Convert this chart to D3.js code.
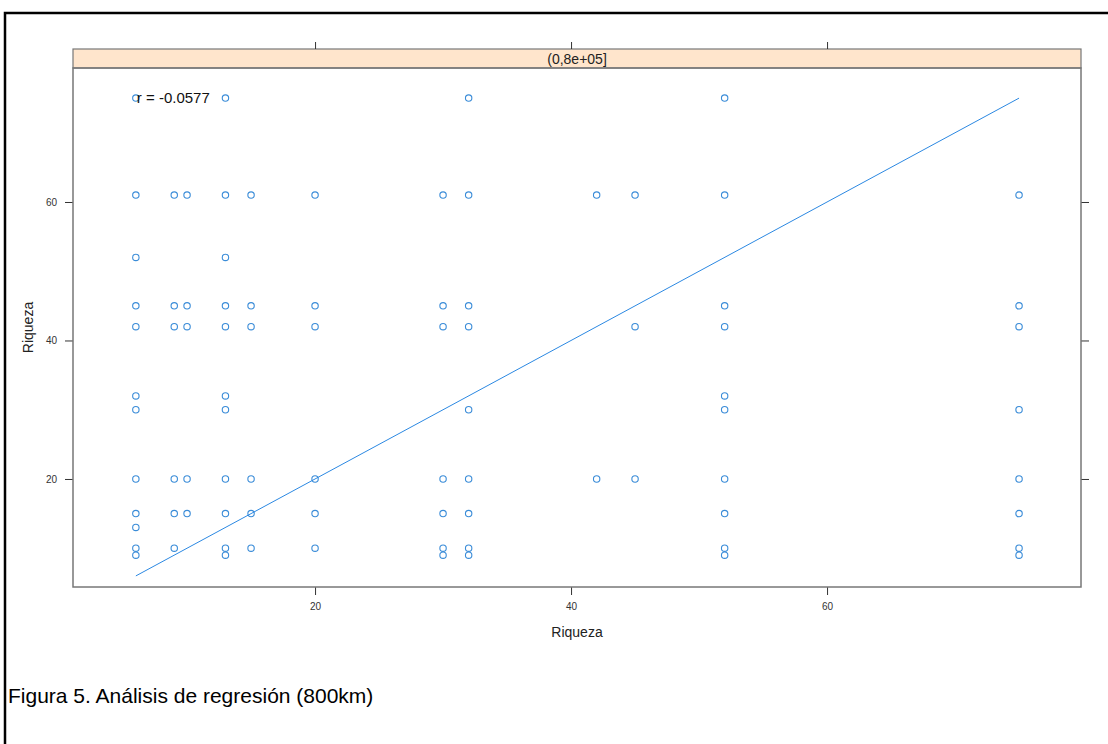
<!DOCTYPE html>
<html>
<head>
<meta charset="utf-8">
<script src="https://cdn.jsdelivr.net/npm/d3@7"></script>
<style>
  body { margin: 0; background: #fff; }
  text { font-family: "Liberation Sans", Arial, sans-serif; }
</style>
</head>
<body>
<div class="chart"></div>
<script>
// data: one x column and its y values each
const xColumns = [6, 9, 10, 13, 15, 20, 30, 32, 42, 45, 52, 75];
const yByColumn = [
  [75, 61, 52, 45, 42, 32, 30, 20, 15, 13, 10, 9],
  [61, 45, 42, 20, 15, 10],
  [61, 45, 42, 20, 15],
  [75, 61, 52, 45, 42, 32, 30, 20, 15, 10, 9],
  [61, 45, 42, 20, 15, 10],
  [61, 45, 42, 20, 15, 10],
  [61, 45, 42, 20, 15, 10, 9],
  [75, 61, 45, 42, 30, 20, 15, 10, 9],
  [61, 20],
  [61, 42, 20],
  [75, 61, 45, 42, 32, 30, 20, 15, 10, 9],
  [61, 45, 42, 30, 20, 15, 10, 9]
];
const lineX = [6, 75];
const lineY = [6, 75];
const xTicks = [20, 40, 60];
const yTicks = [20, 40, 60];
const stripLabel = '(0,8e+05]';
const corrLabel = 'r = -0.0577';
const xLabel = 'Riqueza';
const yLabel = 'Riqueza';
const caption = 'Figura 5. Análisis de regresión (800km)';

const points = [];
xColumns.forEach((xv, i) => {
  yByColumn[i].forEach(yv => points.push({x: xv, y: yv}));
});

const width = 1108, height = 744;
const panel = {left: 73, right: 1081, top: 68, bottom: 587};
const blue = '#2b88e2';

const svg = d3.select('.chart')
  .append('svg')
  .attr('width', width)
  .attr('height', height);

const x = d3.scaleLinear().domain([1.09, 79.84]).range([panel.left, panel.right]);
const y = d3.scaleLinear().domain([4.4, 79.35]).range([panel.bottom, panel.top]);

// outer frame
svg.append('rect')
  .attr('x', 5).attr('y', 13)
  .attr('width', 1200).attr('height', 800)
  .attr('fill', 'none')
  .attr('stroke', '#000')
  .attr('stroke-width', 2.5);

// strip
svg.append('rect')
  .attr('x', panel.left).attr('y', 49)
  .attr('width', panel.right - panel.left).attr('height', panel.top - 49)
  .attr('fill', '#ffe5cc')
  .attr('stroke', '#777')
  .attr('stroke-width', 1.2);

svg.append('text')
  .attr('x', (panel.left + panel.right) / 2)
  .attr('y', 64)
  .attr('text-anchor', 'middle')
  .attr('font-size', '14px')
  .attr('fill', '#222')
  .text(stripLabel);

// axes
function styleAxis(g) {
  g.select('.domain').remove();
  g.selectAll('.tick line').attr('stroke', '#333');
  g.selectAll('.tick text').attr('font-size', '10px').attr('fill', '#333')
    .attr('font-family', '"Liberation Sans", Arial, sans-serif');
}

svg.append('g')
  .attr('transform', `translate(0,${panel.bottom})`)
  .call(d3.axisBottom(x).tickValues(xTicks).tickSize(8).tickPadding(8))
  .call(styleAxis);

svg.append('g')
  .attr('transform', 'translate(0,49)')
  .call(d3.axisTop(x).tickValues(xTicks).tickSize(7).tickFormat(''))
  .call(styleAxis);

svg.append('g')
  .attr('transform', `translate(${panel.left},0)`)
  .call(d3.axisLeft(y).tickValues(yTicks).tickSize(8).tickPadding(8))
  .call(styleAxis);

svg.append('g')
  .attr('transform', `translate(${panel.right},0)`)
  .call(d3.axisRight(y).tickValues(yTicks).tickSize(8).tickFormat(''))
  .call(styleAxis);

// panel border
svg.append('rect')
  .attr('x', panel.left).attr('y', panel.top)
  .attr('width', panel.right - panel.left).attr('height', panel.bottom - panel.top)
  .attr('fill', 'none')
  .attr('stroke', '#777')
  .attr('stroke-width', 1.5);

// points
svg.selectAll('circle.pt')
  .data(points)
  .enter()
  .append('circle')
  .attr('class', 'pt')
  .attr('cx', d => x(d.x))
  .attr('cy', d => y(d.y))
  .attr('r', 3.2)
  .attr('fill', 'none')
  .attr('stroke', '#3a8cd8')
  .attr('stroke-width', 1.1);

// regression line
svg.append('path')
  .datum(lineX.map((v, i) => [v, lineY[i]]))
  .attr('d', d3.line().x(d => x(d[0])).y(d => y(d[1])))
  .attr('fill', 'none')
  .attr('stroke', blue)
  .attr('stroke-width', 1);

svg.append('text')
  .attr('x', x(lineX[0]) + 1)
  .attr('y', y(75) + 5)
  .attr('font-size', '15px')
  .attr('fill', '#111')
  .text(corrLabel);

// axis labels
svg.append('text')
  .attr('x', (panel.left + panel.right) / 2)
  .attr('y', 637)
  .attr('text-anchor', 'middle')
  .attr('font-size', '14px')
  .attr('fill', '#222')
  .text(xLabel);

svg.append('text')
  .attr('transform', `translate(33,${(panel.top + panel.bottom) / 2}) rotate(-90)`)
  .attr('text-anchor', 'middle')
  .attr('font-size', '14px')
  .attr('fill', '#222')
  .text(yLabel);

// caption
svg.append('text')
  .attr('x', 8)
  .attr('y', 703)
  .attr('font-size', '21px')
  .attr('fill', '#000')
  .text(caption);
</script>
</body>
</html>
